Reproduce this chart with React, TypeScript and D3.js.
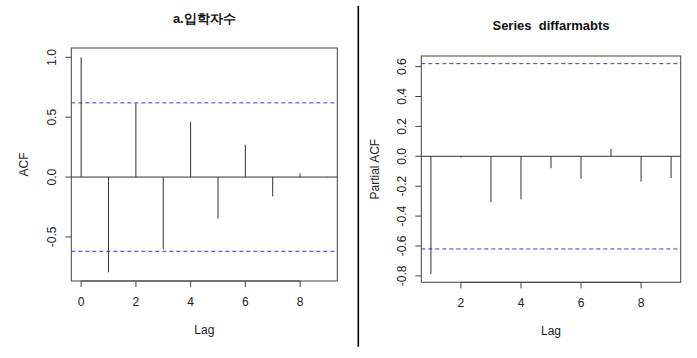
import React from "react";
import * as d3 from "d3";

const acfLags = [0, 1, 2, 3, 4, 5, 6, 7, 8, 9];
const acfValues = [1.0, -0.796, 0.616, -0.601, 0.462, -0.348, 0.27, -0.161, 0.031, -0.003];
const acfYTicks = [-0.5, 0.0, 0.5, 1.0];
const acfXTicks = [0, 2, 4, 6, 8];

const pacfLags = [1, 2, 3, 4, 5, 6, 7, 8, 9];
const pacfValues = [-0.787, -0.01, -0.306, -0.288, -0.08, -0.15, 0.049, -0.17, -0.145];
const pacfYTicks = [-0.8, -0.6, -0.4, -0.2, 0.0, 0.2, 0.4, 0.6];
const pacfXTicks = [2, 4, 6, 8];

const ciBound = 0.6198;

const FONT = "'Liberation Sans', Arial, sans-serif";

type PanelProps = {
  box: { x0: number; x1: number; y0: number; y1: number };
  xDomain: [number, number];
  yDomain: [number, number];
  lags: number[];
  values: number[];
  xTicks: number[];
  yTicks: number[];
  title: string;
  ylabel: string;
  ylabelX: number;
  titleY: number;
};

function Panel(p: PanelProps) {
  const { box } = p;
  const x = d3.scaleLinear().domain(p.xDomain).range([box.x0, box.x1]);
  const y = d3.scaleLinear().domain(p.yDomain).range([box.y1, box.y0]);
  const cx = (box.x0 + box.x1) / 2;
  const cy = (box.y0 + box.y1) / 2;
  const fmt = (v: number) => (Math.abs(v) < 1e-9 ? "0.0" : v.toFixed(1));
  const ax = "#444";
  return (
    <g fontFamily={FONT}>
      <text
        x={cx}
        y={p.titleY}
        textAnchor="middle"
        fontWeight="bold"
        fontSize={13}
        fill="#111"
        style={{ whiteSpace: "pre" }}
      >
        {p.title}
      </text>
      <line x1={box.x0} x2={box.x1} y1={y(0)} y2={y(0)} stroke="#333" strokeWidth={1} />
      {[ciBound, -ciBound].map((c, i) => (
        <line key={i} x1={box.x0} x2={box.x1} y1={y(c)} y2={y(c)} stroke="#3333ff" strokeWidth={1} strokeDasharray="4,3" />
      ))}
      {p.lags.map((l, i) => (
        <line key={i} x1={x(l)} x2={x(l)} y1={y(0)} y2={y(p.values[i])} stroke="#333" strokeWidth={1} />
      ))}
      <rect x={box.x0} y={box.y0} width={box.x1 - box.x0} height={box.y1 - box.y0} fill="none" stroke={ax} strokeWidth={1} />
      <line x1={x(p.xTicks[0])} x2={x(p.xTicks[p.xTicks.length - 1])} y1={box.y1} y2={box.y1} stroke={ax} />
      {p.xTicks.map((t) => (
        <g key={t}>
          <line x1={x(t)} x2={x(t)} y1={box.y1} y2={box.y1 + 6} stroke={ax} />
          <text x={x(t)} y={box.y1 + 25} textAnchor="middle" fontSize={12} fill="#222">
            {t}
          </text>
        </g>
      ))}
      {p.yTicks.map((t) => (
        <g key={t}>
          <line x1={box.x0 - 6} x2={box.x0} y1={y(t)} y2={y(t)} stroke={ax} />
          <text
            transform={`translate(${box.x0 - 15},${y(t)}) rotate(-90)`}
            textAnchor="middle"
            fontSize={12}
            fill="#222"
          >
            {fmt(t)}
          </text>
        </g>
      ))}
      <text x={cx} y={box.y1 + 53} textAnchor="middle" fontSize={12} fill="#222">
        Lag
      </text>
      <text transform={`translate(${p.ylabelX},${cy}) rotate(-90)`} textAnchor="middle" fontSize={12} fill="#222">
        {p.ylabel}
      </text>
    </g>
  );
}

export default function App() {
  return (
    <div style={{ position: "absolute", left: 0, top: 0 }}>
      <svg width={697} height={358} style={{ display: "block", background: "#fff" }}>
        <Panel
          box={{ x0: 71.3, x1: 337.3, y0: 48, y1: 281 }}
          xDomain={[-0.36, 9.36]}
          yDomain={[-0.868, 1.078]}
          lags={acfLags}
          values={acfValues}
          xTicks={acfXTicks}
          yTicks={acfYTicks}
          title="a.입학자수"
          ylabel="ACF"
          ylabelX={28}
          titleY={23}
        />
        <Panel
          box={{ x0: 421.3, x1: 680.7, y0: 56, y1: 282.3 }}
          xDomain={[0.68, 9.32]}
          yDomain={[-0.843, 0.671]}
          lags={pacfLags}
          values={pacfValues}
          xTicks={pacfXTicks}
          yTicks={pacfYTicks}
          title="Series  diffarmabts"
          ylabel="Partial ACF"
          ylabelX={379}
          titleY={30}
        />
        <line x1={358.3} x2={358.3} y1={5.7} y2={346.7} stroke="#000" strokeWidth={1.6} />
      </svg>
    </div>
  );
}
